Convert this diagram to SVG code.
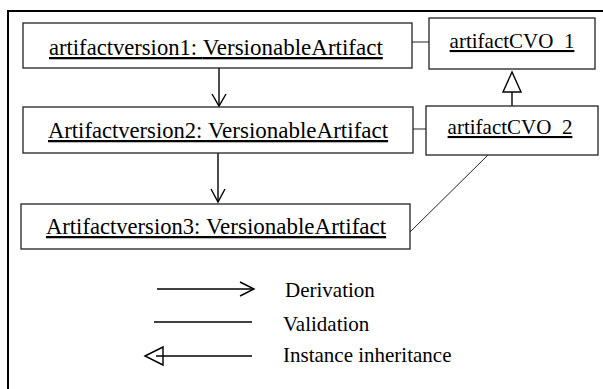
<svg xmlns="http://www.w3.org/2000/svg" width="603" height="389" viewBox="0 0 603 389">
<style>
.box{fill:#fff;stroke:#222;stroke-width:1.3}
.lbl{font-family:"Liberation Serif","Times New Roman","DejaVu Serif",serif;fill:#000;text-decoration:underline}
.s{font-size:22.6px}
.l{font-size:23px}
.cvo{font-family:"Liberation Serif","Times New Roman","DejaVu Serif",serif;font-size:21px;fill:#000;text-decoration:underline}
.leg{font-family:"Liberation Serif","Times New Roman","DejaVu Serif",serif;font-size:21px;fill:#000}
.ln{fill:none;stroke:#000;stroke-width:1.4}
.thin{fill:none;stroke:#222;stroke-width:1}
</style>
<rect x="8" y="11" width="620" height="420" fill="#fff" stroke="#000" stroke-width="2"/>
<g id="connectors">
<line class="thin" x1="412" y1="42" x2="429" y2="42"/>
<line class="thin" x1="413" y1="129" x2="426" y2="129"/>
<line class="thin" x1="410" y1="232" x2="488" y2="155"/>
<line class="ln" x1="219" y1="68" x2="219" y2="106"/>
<polyline class="ln" points="212,94 219,106 226,94"/>
<line class="ln" x1="218" y1="153" x2="218" y2="202"/>
<polyline class="ln" points="211,189 218,202 225,189"/>
<line class="ln" x1="512" y1="92" x2="512" y2="106"/>
<polygon class="ln" points="512,72 503,92 521,92"/>
</g>
<g id="node1">
<rect class="box" x="23" y="23" width="389" height="45"/>
<text class="lbl" x="49" y="55"><tspan class="s">artifactversion1: </tspan><tspan class="l">VersionableArtifact</tspan></text>
</g>
<g id="node2">
<rect class="box" x="23" y="107" width="390" height="46"/>
<text class="lbl" x="48" y="138"><tspan class="s">Artifactversion2: </tspan><tspan class="l">VersionableArtifact</tspan></text>
</g>
<g id="node3">
<rect class="box" x="21" y="204" width="389" height="45"/>
<text class="lbl" x="46" y="234"><tspan class="s">Artifactversion3: </tspan><tspan class="l">VersionableArtifact</tspan></text>
</g>
<g id="cvo1">
<rect class="box" x="429" y="18" width="166" height="51"/>
<text class="cvo" x="512" y="48" text-anchor="middle">artifactCVO_1</text>
</g>
<g id="cvo2">
<rect class="box" x="426" y="106" width="172" height="49"/>
<text class="cvo" x="510" y="134" text-anchor="middle">artifactCVO_2</text>
</g>
<g id="legend">
<line class="ln" x1="157" y1="289" x2="253" y2="289"/>
<polyline class="ln" points="240,282 254,289 240,296"/>
<text class="leg" x="285" y="297">Derivation</text>
<line class="ln" x1="154" y1="322" x2="252" y2="322"/>
<text class="leg" x="283" y="331">Validation</text>
<line class="ln" x1="156" y1="356" x2="252" y2="356"/>
<polygon class="ln" points="145,356 163,347 163,365"/>
<text class="leg" x="283" y="362">Instance inheritance</text>
</g>
</svg>
